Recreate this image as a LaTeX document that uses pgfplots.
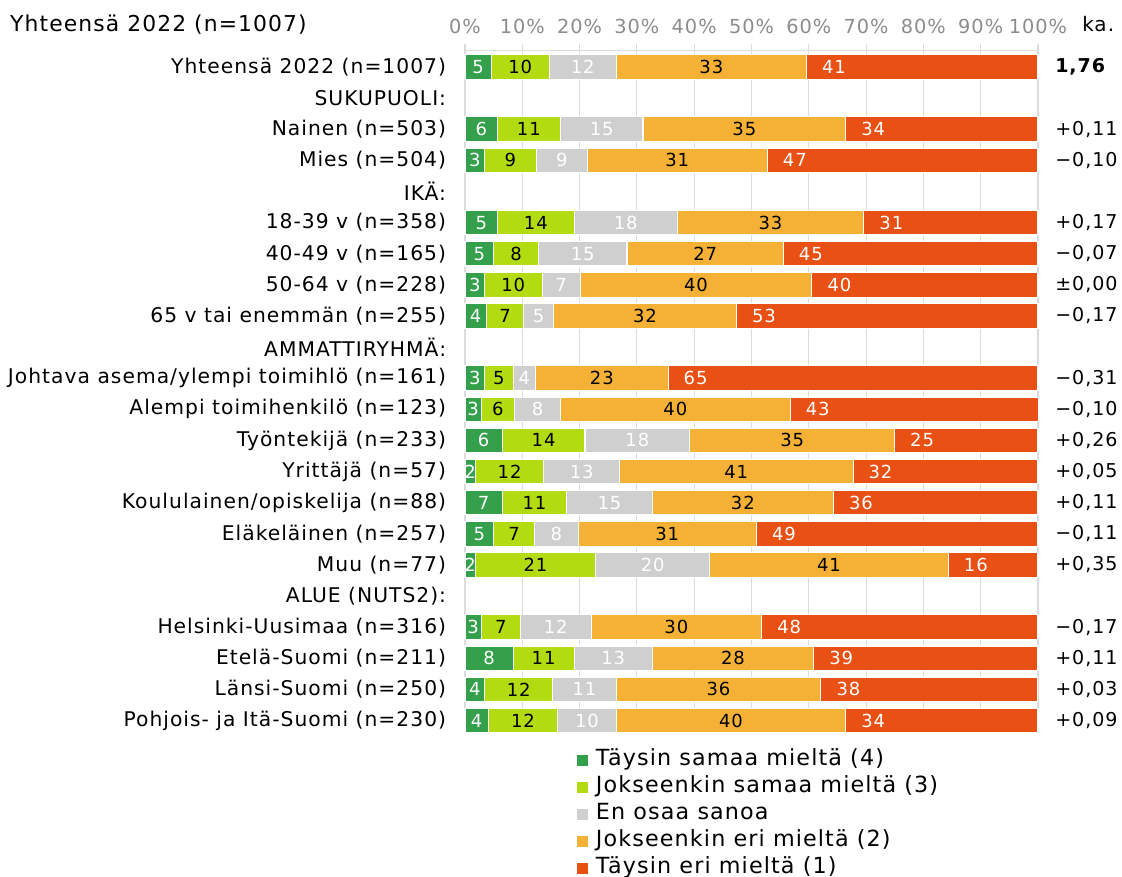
\documentclass[border=0pt]{standalone}
\usepackage{pgfplots}
\pgfplotsset{compat=1.18}
\usepackage{pgfplotstable}
\usepackage{fontspec}
\setmainfont{DejaVu Sans}[LetterSpace=5]
\definecolor{cA}{HTML}{34A04C}
\definecolor{cB}{HTML}{B3DB12}
\definecolor{cC}{HTML}{CFCFCF}
\definecolor{cD}{HTML}{F5B136}
\definecolor{cE}{HTML}{E85014}
\definecolor{tickgray}{HTML}{8C8C8C}
\definecolor{gridgray}{HTML}{DCDCDC}
\pgfplotstableread{
y v1 v2 v3 v4 v5 l1 l2 l3 l4 l5
0 4.60 10.10 11.70 33.20 40.40 5 10 12 33 41
2 5.67 10.96 14.44 35.37 33.56 6 11 15 35 34
3 3.40 9.07 8.85 31.44 47.24 3 9 9 31 47
5 5.67 13.38 17.99 32.57 30.39 5 14 18 33 31
6 4.99 7.86 15.42 27.29 44.44 5 8 15 27 45
7 3.40 10.05 6.66 40.43 39.46 3 10 7 40 40
8 3.70 6.58 5.14 31.97 52.61 4 7 5 32 53
10 3.40 4.99 3.93 23.13 64.55 3 5 4 23 65
11 2.80 5.90 7.94 40.13 43.24 3 6 8 40 43
12 6.50 14.44 18.29 35.75 25.02 6 14 18 35 25
13 1.81 11.94 13.23 40.74 32.28 2 12 13 41 32
14 6.50 11.26 14.89 31.67 35.68 7 11 15 32 36
15 4.99 7.18 7.56 31.14 49.13 5 7 8 31 49
16 1.81 21.01 19.88 41.65 15.65 2 21 20 41 16
18 2.80 6.88 12.32 29.78 48.22 3 7 12 30 48
19 8.39 10.66 13.61 28.19 39.15 8 11 13 28 39
20 3.40 11.94 11.03 35.75 37.87 4 12 11 36 38
21 4.08 12.09 10.21 40.06 33.56 4 12 10 40 34
}\bartab
\pgfplotsset{
  common/.style={
    at={(348.75pt,-38pt)}, anchor=north west,
    scale only axis, width=429.75pt, height=511.7pt,
    xmin=0, xmax=100, ymin=-0.524, ymax=21.40, y dir=reverse,
    clip=false,
    ytick={0,...,21},
  },
  lab/.style={only marks, mark=*, mark size=0pt, mark options={draw=none,fill=none},
    nodes near coords, point meta=explicit symbolic,
    every node near coord/.append style={anchor=center, inner sep=0pt, text=#1, font=\fontsize{13.5}{16}\selectfont}},
}
\begin{document}
\begin{tikzpicture}[font=\fontsize{15.2}{18}\selectfont]
\useasboundingbox (0,0) rectangle (841.5pt,-657pt);
\begin{axis}[common,
  xbar stacked, bar width=18.4pt,
  axis x line*=top, axis y line*=left,
  x axis line style={draw=gridgray, line width=0.8pt},
  y axis line style={draw=none},
  xtick={0,10,...,100},
  xticklabels={0\%,10\%,20\%,30\%,40\%,50\%,60\%,70\%,80\%,90\%,100\%},
  xtick style={draw=gridgray, line width=0.8pt},
  ytick style={draw=none},
  tick align=outside, major tick length=5pt,
  xticklabel style={text=tickgray, font=\fontsize{14.5}{17}\selectfont, yshift=4pt},
  xmajorgrids, major grid style={draw=gridgray, line width=0.8pt},
  yticklabels={Yhteensä 2022 (n=1007),SUKUPUOLI:,Nainen (n=503),Mies (n=504),IKÄ:,18-39 v (n=358),40-49 v (n=165),50-64 v (n=228),65 v tai enemmän (n=255),AMMATTIRYHMÄ:,Johtava asema/ylempi toimihlö (n=161),Alempi toimihenkilö (n=123),Työntekijä (n=233),Yrittäjä (n=57),Koululainen/opiskelija (n=88),Eläkeläinen (n=257),Muu (n=77),ALUE (NUTS2):,Helsinki-Uusimaa (n=316),Etelä-Suomi (n=211),Länsi-Suomi (n=250),Pohjois- ja Itä-Suomi (n=230)},
  yticklabel style={anchor=east, inner sep=0pt, xshift=-9pt},
  legend style={at={(axis description cs:0.1937,-0.0239)}, anchor=north west, draw=none, fill=none,
    inner sep=0pt, font=\fontsize{16.7}{20}\selectfont, row sep=4.3pt, column sep=5pt,
    nodes={text height=12pt, text depth=4pt, inner sep=0pt}},
  legend cell align=left,
  legend image code/.code={\fill[#1] (0pt,-4.5pt) rectangle (9pt,4.5pt);},
  extra description/.code={
    \node[anchor=west, inner sep=0pt, font=\fontsize{16.4}{19}\selectfont] at (axis description cs:-0.7941,1.0385) {Yhteensä 2022 (n=1007)};
    \node[anchor=west, inner sep=0pt, font=\fontsize{15}{18}\selectfont] at (axis description cs:1.0768,1.0385) {ka.};
  },
]
\addplot[fill=cA, draw=white, line width=0.8pt] table[x=v1, y=y] {\bartab};
\addplot[fill=cB, draw=white, line width=0.8pt] table[x=v2, y=y] {\bartab};
\addplot[fill=cC, draw=white, line width=0.8pt] table[x=v3, y=y] {\bartab};
\addplot[fill=cD, draw=white, line width=0.8pt] table[x=v4, y=y] {\bartab};
\addplot[fill=cE, draw=white, line width=0.8pt] table[x=v5, y=y] {\bartab};
\legend{Täysin samaa mieltä (4),Jokseenkin samaa mieltä (3),En osaa sanoa,Jokseenkin eri mieltä (2),Täysin eri mieltä (1)}
\end{axis}
\begin{axis}[common,
  axis line style={draw=none}, tick style={draw=none},
  xtick=\empty,
  yticklabel pos=right,
  yticklabels={{\textbf{1,76}},{},{+0,11},{−0,10},{},{+0,17},{−0,07},{±0,00},{−0,17},{},{−0,31},{−0,10},{+0,26},{+0,05},{+0,11},{−0,11},{+0,35},{},{−0,17},{+0,11},{+0,03},{+0,09}},
  yticklabel style={anchor=west, inner sep=0pt, xshift=12.75pt, font=\fontsize{14.3}{17}\selectfont},
]
\addplot[lab=white] table[x expr=\thisrow{v1}/2, y=y, meta=l1] {\bartab};
\addplot[lab=black] table[x expr=\thisrow{v1}+\thisrow{v2}/2, y=y, meta=l2] {\bartab};
\addplot[lab=white] table[x expr=\thisrow{v1}+\thisrow{v2}+\thisrow{v3}/2, y=y, meta=l3] {\bartab};
\addplot[lab=black] table[x expr=\thisrow{v1}+\thisrow{v2}+\thisrow{v3}+\thisrow{v4}/2, y=y, meta=l4] {\bartab};
\addplot[lab=white] table[x expr=\thisrow{v1}+\thisrow{v2}+\thisrow{v3}+\thisrow{v4}+4.8, y=y, meta=l5] {\bartab};
\end{axis}
\end{tikzpicture}
\end{document}
